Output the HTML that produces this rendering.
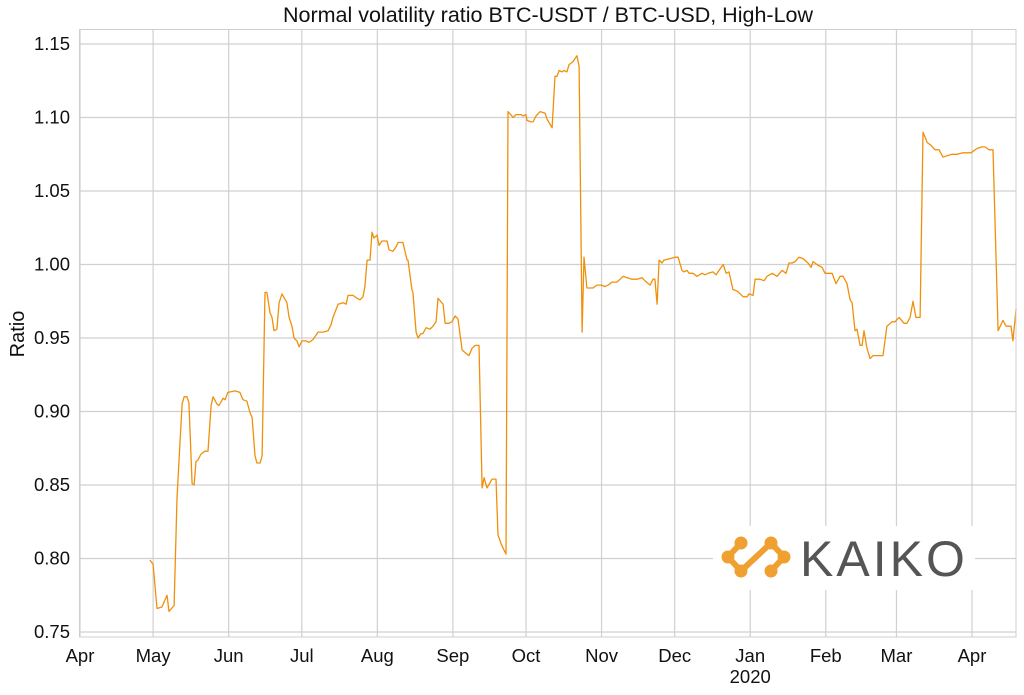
<!DOCTYPE html>
<html><head><meta charset="utf-8"><style>
body{margin:0;background:#fff;}
svg{display:block;font-family:"Liberation Sans",Arial,sans-serif;}
</style></head><body>
<svg id="chart" width="1024" height="695" viewBox="0 0 1024 695">
<text x="548" y="22" text-anchor="middle" font-size="21.5" fill="#111">Normal volatility ratio BTC-USDT / BTC-USD, High-Low</text>
<g id="grid"></g>
<g id="yticks"></g>
<g id="xticks"></g>
<text transform="translate(24,334) rotate(-90)" text-anchor="middle" font-size="20" fill="#111">Ratio</text>
<path id="line" fill="none" stroke="#f0900a" stroke-width="1.3" stroke-linejoin="round"></path>
<rect x="79.5" y="29.5" width="936.5" height="607.5" fill="none" stroke="#cfcfcf" stroke-width="1"/>
<g>
<rect x="713" y="526" width="262" height="64" fill="#fff"/>
<g fill="#f0a030" stroke="#f0a030">
<circle cx="728" cy="557" r="6"/><circle cx="741" cy="543" r="6"/><circle cx="771" cy="543" r="6"/>
<circle cx="784" cy="557" r="6"/><circle cx="771" cy="571" r="6"/><circle cx="741" cy="571" r="6"/>
<path d="M741 571 L728 557 L741 543 M741 571 L771 543 L784 557 L771 571" fill="none" stroke-width="6"/>
</g>
<text x="800" y="576" font-size="50" fill="#555" letter-spacing="3">KAIKO</text>
</g>
</svg>
<script>
const days=[28.7,30.0,31.6,33.6,35.7,36.5,38.6,39.8,40.6,41.9,42.7,43.9,44.7,46.0,46.8,47.6,48.4,49.6,51.3,52.5,53.8,54.6,56.2,57.0,58.7,59.5,60.7,63.6,65.6,66.9,68.5,69.8,70.6,71.8,72.6,73.9,74.7,75.9,76.7,78.0,78.8,79.6,80.8,81.7,82.9,84.9,85.8,87.0,87.8,89.0,89.9,91.1,92.7,94.0,95.6,97.7,99.7,101.8,103.0,103.8,105.9,107.9,109.2,110.0,112.0,113.7,114.9,116.1,116.9,117.8,119.0,119.8,120.6,121.9,122.7,123.9,126.0,126.8,128.4,129.7,130.5,132.5,134.2,134.6,136.2,136.6,137.9,138.7,139.9,140.7,142.0,143.6,144.8,146.1,146.9,149.0,149.8,151.4,152.6,153.9,155.1,156.8,158.0,159.6,160.9,162.1,163.7,165.0,165.8,167.0,169.1,170.7,171.5,172.8,173.6,174.8,175.6,177.7,178.9,181.0,181.8,183.0,183.4,185.1,185.9,187.1,188.8,190.8,191.6,193.7,194.9,195.7,196.6,197.8,198.6,199.8,200.7,202.3,203.9,204.8,206.0,206.8,208.0,209.3,210.5,212.1,213.8,215.4,216.7,218.3,220.3,221.6,222.8,224.5,226.5,228.6,230.6,231.8,233.9,235.1,235.9,236.8,237.6,238.8,239.6,242.1,244.2,245.4,247.0,247.8,249.1,249.9,251.5,253.2,255.2,256.5,257.7,259.7,261.0,261.8,263.9,265.1,266.3,267.9,269.6,272.1,273.7,274.5,276.2,277.0,279.0,280.7,281.9,284.0,286.0,288.1,289.7,290.9,292.2,293.4,295.0,296.7,298.7,300.0,300.8,302.4,304.5,305.7,306.5,308.6,310.2,311.9,313.1,314.7,316.0,316.8,318.0,318.8,320.1,320.9,321.7,322.9,324.2,325.4,328.3,329.5,331.1,333.2,334.4,336.1,338.1,339.3,340.6,341.8,343.0,344.7,345.9,347.6,349.2,350.8,352.5,354.1,355.8,357.8,359.9,362.3,364.0,365.6,368.1,370.1,371.3,373.0,374.6,376.7,378.7,380.0,382.0,382.8,384.1];
const ratios=[.799,.796,.766,.767,.775,.764,.768,.841,.865,.905,.910,.910,.906,.851,.850,.866,.867,.871,.873,.873,.904,.910,.905,.904,.909,.908,.913,.914,.913,.908,.907,.899,.896,.870,.865,.865,.870,.981,.981,.967,.964,.955,.956,.974,.980,.974,.964,.958,.950,.948,.944,.948,.948,.947,.949,.954,.954,.955,.959,.964,.973,.974,.973,.979,.979,.977,.976,.978,.985,1.003,1.003,1.022,1.018,1.020,1.013,1.016,1.016,1.010,1.009,1.012,1.015,1.015,1.003,1.003,.983,.981,.954,.950,.953,.953,.957,.956,.958,.961,.977,.973,.960,.960,.961,.965,.963,.942,.940,.938,.943,.945,.945,.848,.855,.848,.854,.854,.816,.810,.807,.803,1.104,1.100,1.102,1.102,1.101,1.102,1.098,1.097,1.097,1.101,1.104,1.103,1.099,1.093,1.128,1.128,1.132,1.131,1.132,1.131,1.136,1.138,1.142,1.135,.954,1.005,.984,.984,.984,.986,.986,.985,.986,.988,.988,.990,.992,.991,.990,.990,.991,.989,.986,.990,.990,.973,1.003,1.001,1.003,1.004,1.005,1.005,.996,.995,.996,.994,.994,.992,.994,.993,.994,.995,.993,.995,1.000,.994,.995,.983,.982,.978,.978,.980,.979,.990,.990,.989,.992,.994,.992,.996,.994,1.001,1.001,1.002,1.005,1.004,1.001,.998,1.002,1.000,.998,.994,.994,.994,.987,.992,.992,.987,.976,.974,.955,.956,.945,.945,.955,.943,.936,.938,.938,.938,.958,.961,.961,.964,.960,.960,.964,.975,.964,.964,1.090,1.083,1.081,1.078,1.078,1.073,1.074,1.075,1.075,1.076,1.076,1.076,1.079,1.080,1.080,1.078,1.078,.955,.962,.958,.958,.948,.970];
const yTicks=[0.75,0.80,0.85,0.90,0.95,1.00,1.05,1.10,1.15];
const xTickLabels=["Apr","May","Jun","Jul","Aug","Sep","Oct","Nov","Dec","Jan","Feb","Mar","Apr"];
const xTickDays=[0,30,61,91,122,153,183,214,244,275,306,335,366];

const NS="http://www.w3.org/2000/svg";
function xScale(d){return 80+d*(892/366);}
function yScale(v){return 632-(v-0.75)*1470;}
const grid=document.getElementById('grid'),yt=document.getElementById('yticks'),xt=document.getElementById('xticks');
yTicks.forEach(v=>{
  const y=yScale(v);
  const l=document.createElementNS(NS,'line');
  l.setAttribute('x1',80);l.setAttribute('x2',1016);l.setAttribute('y1',y);l.setAttribute('y2',y);
  l.setAttribute('stroke','#d0d0d0');l.setAttribute('stroke-width','1.2');
  
  
  grid.appendChild(l);
  const t=document.createElementNS(NS,'text');
  t.setAttribute('x',70);t.setAttribute('y',y+6);t.setAttribute('text-anchor','end');
  t.setAttribute('font-size','18.5');t.setAttribute('fill','#111');
  t.textContent=v.toFixed(2);
  
  
  yt.appendChild(t);
});
xTickDays.forEach((d,i)=>{
  const x=xScale(d);
  const l=document.createElementNS(NS,'line');
  l.setAttribute('x1',x);l.setAttribute('x2',x);l.setAttribute('y1',30);l.setAttribute('y2',637);
  l.setAttribute('stroke','#d0d0d0');l.setAttribute('stroke-width','1.2');
  
  
  grid.appendChild(l);
  const t=document.createElementNS(NS,'text');
  t.setAttribute('x',x);t.setAttribute('y',662);t.setAttribute('text-anchor','middle');
  t.setAttribute('font-size','18.5');t.setAttribute('fill','#111');
  t.textContent=xTickLabels[i];
  
  
  xt.appendChild(t);
});
const yr=document.createElementNS(NS,'text');
yr.setAttribute('x',xScale(275));yr.setAttribute('y',683);yr.setAttribute('text-anchor','middle');
yr.setAttribute('font-size','18.5');yr.setAttribute('fill','#111');yr.textContent='2020';


xt.appendChild(yr);
document.getElementById('line').setAttribute('d',days.map((d,i)=>(i?'L':'M')+xScale(d).toFixed(1)+' '+yScale(ratios[i]).toFixed(1)).join(' '));
</script>
</body></html>
